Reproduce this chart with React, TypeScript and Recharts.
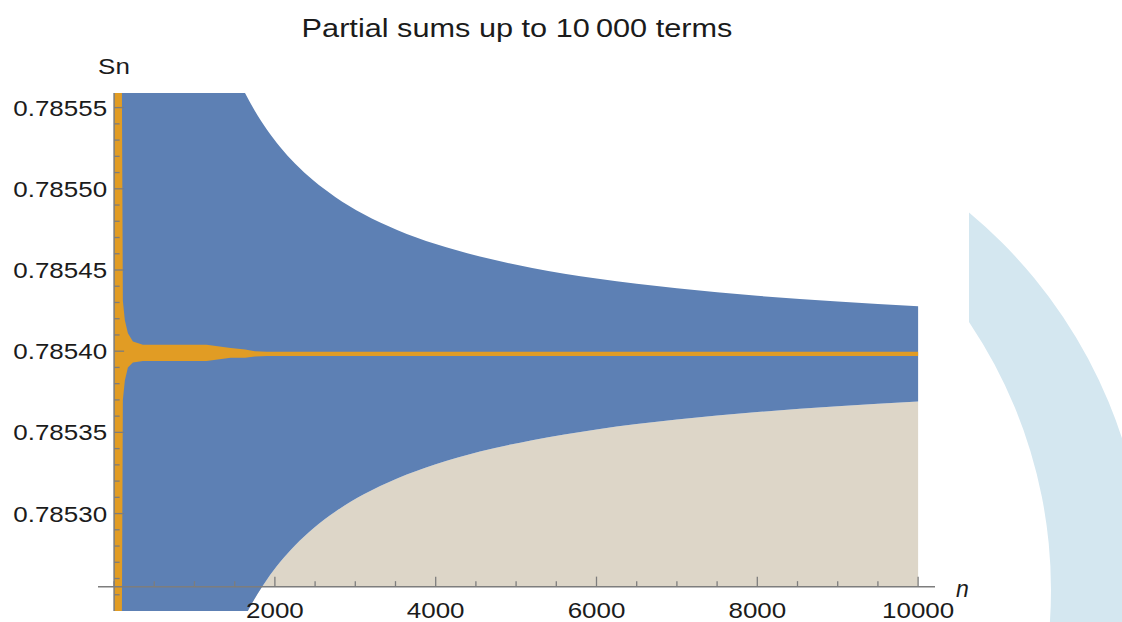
import React from 'react';
import { AreaChart, Area, XAxis, YAxis, ReferenceLine } from 'recharts';

// n positions shared by every series
const nValues = [
  2, 40, 85, 109, 134, 172, 234, 358, 600, 1000, 1150, 1450, 1630, 1750, 1900, 2060, 2250, 2480,
  2750, 3100, 3520, 4000, 4550, 5200, 6000, 7000, 8000, 9000, 10000,
];
// upper / lower envelope (off-chart values for small n are estimates, they get clipped)
const upperBound = [
  0.913, 0.79178, 0.7884, 0.7877435, 0.7872067, 0.7868859, 0.7864928, 0.786115, 0.7858275, 0.7856574,
  0.7856241, 0.7855782, 0.7855588, 0.785548, 0.7855365, 0.7855261, 0.7855156, 0.7855051, 0.785495,
  0.7854845, 0.7854747, 0.785466, 0.7854583, 0.7854513, 0.7854447, 0.7854387, 0.7854341, 0.7854306,
  0.7854277,
];
const lowerBound = [
  0.6567, 0.778968, 0.782368, 0.7830337, 0.7834747, 0.7838987, 0.784295, 0.784676, 0.7849659, 0.7851374,
  0.785171, 0.7852173, 0.7852368, 0.7852477, 0.7852593, 0.7852698, 0.7852803, 0.7852909, 0.7853011,
  0.7853117, 0.7853216, 0.7853304, 0.7853382, 0.7853452, 0.7853518, 0.7853579, 0.7853625, 0.7853661,
  0.785369,
];
// band covered by the partial sums S_n
const sumHigh = [
  0.8, 0.786, 0.7857, 0.785431, 0.785419, 0.785411, 0.785406, 0.785404, 0.785404, 0.785404, 0.785404,
  0.785402, 0.785401, 0.7854, 0.7853997, 0.7853997, 0.7853997, 0.7853997, 0.7853997, 0.7853997,
  0.7853997, 0.7853997, 0.7853997, 0.7853997, 0.7853997, 0.7853997, 0.7853997, 0.7853997, 0.7853997,
];
const sumLow = [
  0.77, 0.7848, 0.7851, 0.78537, 0.785382, 0.78539, 0.785393, 0.785394, 0.785394, 0.785394, 0.785394,
  0.785396, 0.785396, 0.7853967, 0.785397, 0.785397, 0.785397, 0.785397, 0.785397, 0.785397, 0.785397,
  0.785397, 0.785397, 0.785397, 0.785397, 0.785397, 0.785397, 0.785397, 0.785397,
];

const xMajorTicks = [2000, 4000, 6000, 8000, 10000];
const xMajorLabels = ['2000', '4000', '6000', '8000', '10000'];
const xMinorTicks = [0, 500, 1000, 1500, 2500, 3000, 3500, 4500, 5000, 5500, 6500, 7000, 7500, 8500, 9000, 9500];
const yMajorTicks = [0.7853, 0.78535, 0.7854, 0.78545, 0.7855, 0.78555];
const yMajorLabels = ['0.78530', '0.78535', '0.78540', '0.78545', '0.78550', '0.78555'];
const yMinorTicks = [
  0.78525, 0.78526, 0.78527, 0.78528, 0.78529, 0.78531, 0.78532, 0.78533, 0.78534, 0.78536, 0.78537,
  0.78538, 0.78539, 0.78541, 0.78542, 0.78543, 0.78544, 0.78546, 0.78547, 0.78548, 0.78549, 0.78551,
  0.78552, 0.78553, 0.78554,
];

const AXIS_BASE = 0.785255;
const X_MIN = -200;
const X_MAX = 10210;
const Y_MIN = 0.78524;
const Y_MAX = 0.785559;

const W = 969;
const H = 622;
const X_AXIS_H = 11;
const MARGIN = { top: 93, right: 34, bottom: 0, left: 0 };
const Y_AXIS_W = 98;
const PLOT_LEFT = MARGIN.left + Y_AXIS_W;
const PLOT_W = W - MARGIN.right - PLOT_LEFT;
const PLOT_BOTTOM = H - MARGIN.bottom - X_AXIS_H;
const PLOT_H = PLOT_BOTTOM - MARGIN.top;
const yAxisPx = PLOT_LEFT + ((0 - X_MIN) / (X_MAX - X_MIN)) * PLOT_W;
const xAxisPx = PLOT_BOTTOM - ((AXIS_BASE - Y_MIN) / (Y_MAX - Y_MIN)) * PLOT_H;

const FONT = '"Liberation Sans", Arial, sans-serif';
const SX = 1.18;
const AXIS_COLOR = '#7d7d7d';
const TEXT_COLOR = '#1b1b1b';

const data = nValues.map((n, i) => ({
  n,
  upper: upperBound[i],
  lower: lowerBound[i],
  sHigh: sumHigh[i],
  sLow: sumLow[i],
}));

const XTick = (props: any) => {
  const { payload } = props;
  const x = payload.coordinate;
  const idx = xMajorTicks.indexOf(payload.value);
  const major = idx >= 0;
  return (
    <g>
      <line x1={x} x2={x} y1={xAxisPx} y2={xAxisPx - (major ? 10 : 5.5)} stroke={AXIS_COLOR} strokeWidth={1.3} />
      {major && (
        <text
          transform={`translate(${x},${xAxisPx + 31}) scale(${SX},1)`}
          textAnchor="middle"
          fontSize={22}
          fontFamily={FONT}
          fill={TEXT_COLOR}
        >
          {xMajorLabels[idx]}
        </text>
      )}
    </g>
  );
};

const YTick = (props: any) => {
  const { payload } = props;
  const y = payload.coordinate;
  const idx = yMajorTicks.indexOf(payload.value);
  const major = idx >= 0;
  return (
    <g>
      <line x1={yAxisPx} x2={yAxisPx + (major ? 10 : 5.5)} y1={y} y2={y} stroke={AXIS_COLOR} strokeWidth={1.3} />
      {major && (
        <text
          transform={`translate(${yAxisPx - 7},${y + 8}) scale(${SX},1)`}
          textAnchor="end"
          fontSize={22}
          fontFamily={FONT}
          fill={TEXT_COLOR}
        >
          {yMajorLabels[idx]}
        </text>
      )}
    </g>
  );
};

export default function App() {
  return (
    <div style={{ position: 'absolute', left: 0, top: 0, width: 1122, height: 622, background: '#fff', overflow: 'hidden' }}>
      {/* slide decoration on the right */}
      <svg width={1122} height={622} style={{ position: 'absolute', left: 0, top: 0 }}>
        <defs>
          <clipPath id="arcClip">
            <rect x={969} y={0} width={200} height={622} />
          </clipPath>
        </defs>
        <path
          clipPath="url(#arcClip)"
          fillRule="evenodd"
          fill="#d4e7f0"
          d="M 1146 590 A 491 491 0 1 0 164 590 A 491 491 0 1 0 1146 590 Z M 1051 590 A 479 479 0 1 0 93 590 A 479 479 0 1 0 1051 590 Z"
        />
      </svg>

      <div style={{ position: 'absolute', left: 0, top: 0, width: W, height: H, overflow: 'hidden' }}>
        <AreaChart width={W} height={H} data={data} margin={MARGIN}>
          <Area
            type="monotone"
            dataKey={(d: any) => [AXIS_BASE, d.lower]}
            fill="#ddd6c8"
            fillOpacity={1}
            stroke="none"
            isAnimationActive={false}
          />
          <Area
            type="monotone"
            dataKey={(d: any) => [d.lower, d.upper]}
            fill="#5d80b4"
            fillOpacity={1}
            stroke="none"
            isAnimationActive={false}
          />
          <Area
            type="linear"
            dataKey={(d: any) => [d.sLow, d.sHigh]}
            fill="#e19c24"
            fillOpacity={1}
            stroke="none"
            isAnimationActive={false}
          />
          <XAxis
            type="number"
            dataKey="n"
            domain={[X_MIN, X_MAX]}
            allowDataOverflow
            ticks={[...xMinorTicks, ...xMajorTicks]}
            interval={0}
            tick={XTick}
            tickLine={false}
            axisLine={false}
            height={X_AXIS_H}
          />
          <YAxis
            type="number"
            domain={[Y_MIN, Y_MAX]}
            allowDataOverflow
            ticks={[...yMinorTicks, ...yMajorTicks]}
            interval={0}
            tick={YTick}
            tickLine={false}
            axisLine={false}
            width={Y_AXIS_W}
          />
          <ReferenceLine y={AXIS_BASE} stroke={AXIS_COLOR} strokeWidth={1.5} />
          <ReferenceLine x={0} stroke={AXIS_COLOR} strokeWidth={1.5} />
        </AreaChart>

        <div
          style={{
            position: 'absolute',
            left: PLOT_LEFT + PLOT_W / 2 - 300,
            width: 600,
            top: 13,
            textAlign: 'center',
            fontFamily: FONT,
            fontSize: 26,
            color: TEXT_COLOR,
            transform: `scaleX(${SX})`,
            whiteSpace: 'nowrap',
          }}
        >
          Partial sums up to 10&#8201;000 terms
        </div>
        <div
          style={{
            position: 'absolute',
            left: yAxisPx - 50,
            width: 100,
            top: 54,
            textAlign: 'center',
            fontFamily: FONT,
            fontSize: 22,
            color: TEXT_COLOR,
            transform: `scaleX(${SX})`,
          }}
        >
          Sn
        </div>
        <div
          style={{
            position: 'absolute',
            left: 956,
            top: 576,
            fontFamily: FONT,
            fontSize: 23,
            fontStyle: 'italic',
            color: TEXT_COLOR,
          }}
        >
          n
        </div>
      </div>
    </div>
  );
}
